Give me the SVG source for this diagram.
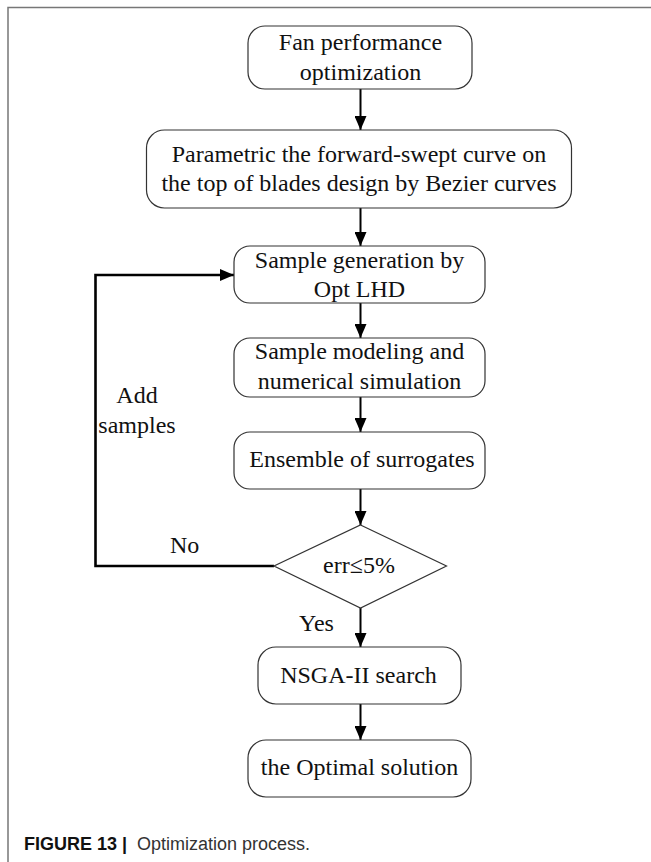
<svg xmlns="http://www.w3.org/2000/svg" width="651" height="862" viewBox="0 0 651 862">
<style>
.box{fill:#fff;stroke:#333;stroke-width:1.2}
.t{font-family:"Liberation Serif","Times New Roman",serif;font-size:24px;fill:#111;text-anchor:middle}
.tl{font-family:"Liberation Serif","Times New Roman",serif;font-size:24px;fill:#111}
.c{fill:none;stroke:#000;stroke-width:2;marker-end:url(#ah)}
.loop{fill:none;stroke:#000;stroke-width:2.6;marker-end:url(#ah)}
.frame{stroke:#777;stroke-width:1.5;fill:none}
</style>
<defs>
<marker id="ah" viewBox="0 0 14 12" refX="14" refY="6" markerWidth="14" markerHeight="12" markerUnits="userSpaceOnUse" orient="auto">
<path d="M0,0 L14,6 L0,12 Z" fill="#000"/>
</marker>
</defs>
<rect width="651" height="862" fill="#fff"/>
<path class="frame" d="M8,862 V7.5 H651"/>

<g id="connectors">
<path class="c" d="M360.5,89 V130"/>
<path class="c" d="M360.5,208 V246"/>
<path class="c" d="M360.5,303 V338"/>
<path class="c" d="M360.5,397 V432"/>
<path class="c" d="M360.5,489 V525"/>
<path class="c" d="M360.5,608 V647"/>
<path class="c" d="M360.5,704 V740"/>
<path class="loop" d="M274,566 H95.5 V275 H234"/>
<text class="tl" x="170" y="553">No</text>
<text class="t" x="137" y="403">Add</text>
<text class="t" x="137" y="433">samples</text>
<text class="tl" x="299" y="631">Yes</text>
</g>

<g id="n1">
<rect class="box" x="248" y="26" width="224" height="63" rx="17"/>
<text class="t" x="360.5" y="50">Fan performance</text>
<text class="t" x="360.5" y="80">optimization</text>
</g>
<g id="n2">
<rect class="box" x="146.5" y="130" width="425" height="78" rx="18"/>
<text class="t" x="359" y="162">Parametric the forward-swept curve on</text>
<text class="t" x="359" y="191">the top of blades design by Bezier curves</text>
</g>
<g id="n3">
<rect class="box" x="234" y="246" width="251" height="57" rx="16"/>
<text class="t" x="359.5" y="268">Sample generation by</text>
<text class="t" x="359.5" y="297">Opt LHD</text>
</g>
<g id="n4">
<rect class="box" x="234" y="338" width="251" height="59" rx="16"/>
<text class="t" x="359.5" y="359">Sample modeling and</text>
<text class="t" x="359.5" y="389">numerical simulation</text>
</g>
<g id="n5">
<rect class="box" x="234" y="432" width="251" height="57" rx="16"/>
<text class="t" x="362" y="467">Ensemble of surrogates</text>
</g>
<g id="n6">
<polygon class="box" points="360.5,525 446.5,566 360.5,608 274,566"/>
<text class="t" x="359" y="573">err≤5%</text>
</g>
<g id="n7">
<rect class="box" x="258" y="647" width="203" height="57" rx="18"/>
<text class="t" x="358.5" y="683">NSGA-II search</text>
</g>
<g id="n8">
<rect class="box" x="248" y="740" width="223" height="57" rx="18"/>
<text class="t" x="359.5" y="775">the Optimal solution</text>
</g>

<g id="caption" font-family="'Liberation Sans',Arial,sans-serif" font-size="18">
<text x="24" y="850" font-weight="bold" fill="#111">FIGURE 13 <tspan>|</tspan></text>
<text x="137" y="850" fill="#333">Optimization process.</text>
</g>
</svg>
